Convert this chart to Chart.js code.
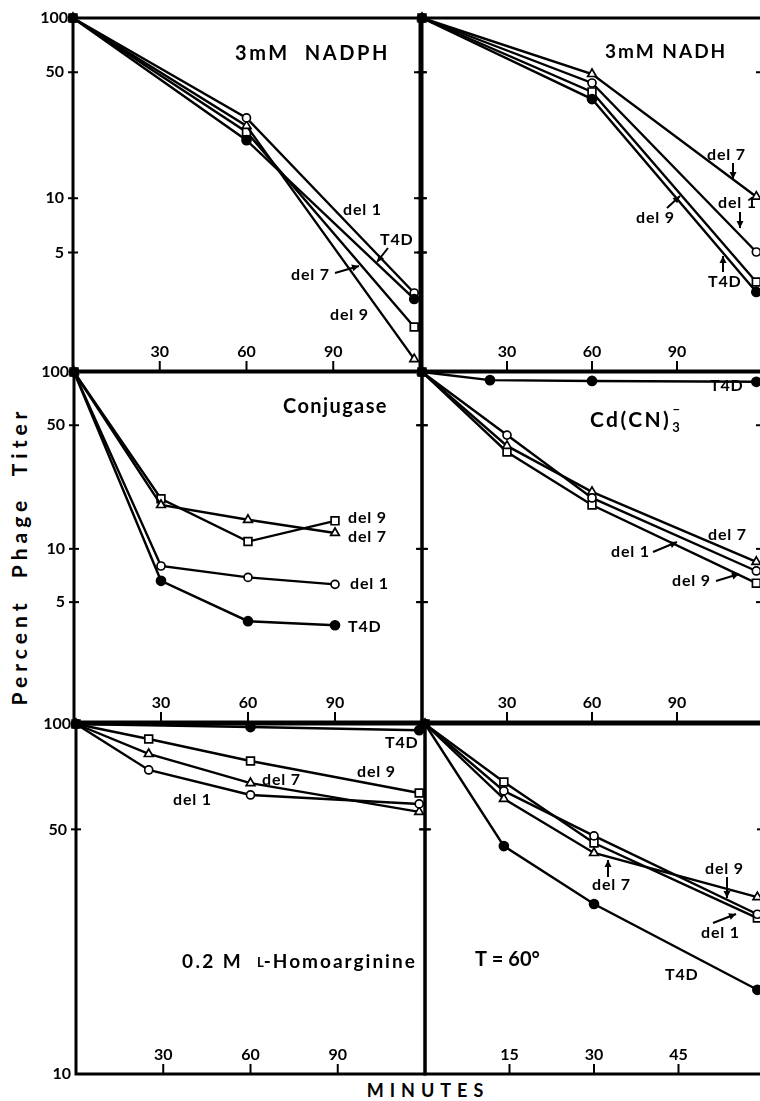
<!DOCTYPE html>
<html>
<head>
<meta charset="utf-8">
<script src="https://cdn.jsdelivr.net/npm/chart.js@4.4.1/dist/chart.umd.min.js"></script>
<style>
  html, body { margin: 0; padding: 0; background: #fff; overflow: hidden; width: 760px; height: 1101px; }
  canvas { position: absolute; left: 0; top: 0; }
  .ytitle { position: absolute; left: 18px; top: 556px; transform: translate(-50%, -50%) rotate(-90deg);
            font: 700 21px Lato, sans-serif; letter-spacing: 5px; white-space: nowrap; color: #000; }
  .xtitle { position: absolute; left: 428px; top: 1090px; transform: translate(-50%, -50%);
            font: 700 18px Lato, sans-serif; letter-spacing: 6px; white-space: nowrap; color: #000; }
</style>
</head>
<body>
<div class="ytitle">Percent&nbsp; Phage&nbsp; Titer</div>
<div class="xtitle">MINUTES</div>
<canvas id="c0" width="800" height="1101"></canvas>
<canvas id="c1" width="800" height="1101"></canvas>
<canvas id="c2" width="800" height="1101"></canvas>
<canvas id="c3" width="800" height="1101"></canvas>
<canvas id="c4" width="800" height="1101"></canvas>
<canvas id="c5" width="800" height="1101"></canvas>
<script>
// ---- data (minutes, percent phage titer) ----
const nadphMin = [0, 60, 118];
const nadphT4D = [100, 21.0, 2.76];
const nadphDel1 = [100, 27.9, 2.98];
const nadphDel7 = [100, 25.2, 1.28];
const nadphDel9 = [100, 23.3, 1.93];

const nadhMin = [0, 60, 118];
const nadhT4D = [100, 35.5, 3.02];
const nadhDel1 = [100, 43.6, 5.03];
const nadhDel7 = [100, 48.9, 10.2];
const nadhDel9 = [100, 38.9, 3.43];

const conjMin = [0, 30, 60, 90];
const conjT4D = [100, 6.6, 3.9, 3.7];
const conjDel1 = [100, 8.0, 6.9, 6.3];
const conjDel7 = [100, 17.7, 14.6, 12.3];
const conjDel9 = [100, 19.2, 11.0, 14.4];

const cdMin = [0, 30, 60, 118];
const cdT4DMin = [0, 24, 60, 118];
const cdT4D = [100, 90, 89, 88];
const cdDel1 = [100, 44, 19.4, 7.5];
const cdDel7 = [100, 38.2, 21.0, 8.45];
const cdDel9 = [100, 35.3, 17.7, 6.4];

const harMin = [0, 25, 60, 118];
const harT4DMin = [0, 60, 118];
const harT4D = [100, 98, 96];
const harDel1 = [100, 73.9, 62.7, 59.1];
const harDel7 = [100, 82.1, 67.8, 56.1];
const harDel9 = [100, 90.6, 78.4, 63.5];

const heatMin = [0, 14, 30, 59];
const heatT4D = [100, 44.8, 30.6, 17.4];
const heatDel1 = [100, 64.4, 47.9, 28.6];
const heatDel7 = [100, 61.1, 42.8, 32.0];
const heatDel9 = [100, 68.3, 45.7, 27.9];

const xTicks120 = [30, 60, 90];
const xTicks60 = [15, 30, 45];
const yTicksWide = [100, 50, 10, 5];
const yTicksNarrow = [100, 50, 10];

// ---- styles ----
const FONT = "Lato, 'DejaVu Sans', sans-serif";
const marks = {
  t4d:  { style: 'circle',   r: 4.5, fill: '#000' },
  del1: { style: 'circle',   r: 4,   fill: '#fff' },
  del7: { style: 'triangle', r: 5,   fill: '#fff' },
  del9: { style: 'rect',     r: 5.5, fill: '#fff' }
};

function ds(label, xs, ys, kind) {
  const m = marks[kind];
  return {
    label,
    data: xs.map((x, i) => ({ x, y: ys[i] })),
    borderColor: '#000',
    borderWidth: 2.4,
    pointStyle: m.style,
    pointRadius: m.r,
    pointBackgroundColor: m.fill,
    pointBorderColor: '#000',
    pointBorderWidth: 1.7,
    clip: false,
    tension: 0
  };
}

function arrow(ctx, a, b) {
  const ang = Math.atan2(b[1] - a[1], b[0] - a[0]);
  ctx.lineWidth = 2;
  ctx.beginPath(); ctx.moveTo(a[0], a[1]); ctx.lineTo(b[0], b[1]); ctx.stroke();
  ctx.beginPath();
  ctx.moveTo(b[0], b[1]);
  ctx.lineTo(b[0] - 7 * Math.cos(ang) + 3.5 * Math.sin(ang), b[1] - 7 * Math.sin(ang) - 3.5 * Math.cos(ang));
  ctx.lineTo(b[0] - 7 * Math.cos(ang) - 3.5 * Math.sin(ang), b[1] - 7 * Math.sin(ang) + 3.5 * Math.cos(ang));
  ctx.closePath(); ctx.fill();
}

function drawParts(ctx, parts, x, y) {
  let cx = x;
  parts.forEach(p => {
    ctx.font = '700 ' + p.size + 'px ' + FONT;
    ctx.letterSpacing = (p.sp || 0) + 'px';
    ctx.textAlign = 'left';
    ctx.fillText(p.t, cx + (p.dx || 0), y + (p.dy || 0));
    if (!p.stay) cx += ctx.measureText(p.t).width;
  });
}

function panelPlugin(p) {
  return {
    id: 'panel',
    beforeDatasetsDraw(chart) {
      const { ctx, chartArea: a } = chart;
      const x = chart.scales.x, y = chart.scales.y;
      ctx.save();
      ctx.strokeStyle = '#000'; ctx.fillStyle = '#000';
      ctx.lineWidth = 3;
      ctx.strokeRect(a.left, a.top, a.right - a.left, a.bottom - a.top);
      ctx.lineWidth = 2;
      ctx.font = '700 16px ' + FONT;
      ctx.textAlign = 'center'; ctx.textBaseline = 'middle';
      p.xTicks.forEach(v => {
        const px = x.getPixelForValue(v);
        ctx.beginPath(); ctx.moveTo(px, a.bottom); ctx.lineTo(px, a.bottom - 10); ctx.stroke();
        ctx.fillText(String(v), px, a.bottom - 19);
      });
      p.yTicks.forEach(v => {
        const py = y.getPixelForValue(v);
        const edge = (v === 100 || v === p.yMin);
        if (!edge) {
          ctx.beginPath(); ctx.moveTo(a.left - 5, py); ctx.lineTo(a.left + 5, py); ctx.stroke();
          ctx.beginPath(); ctx.moveTo(a.right - 6, py); ctx.lineTo(a.right + 6, py); ctx.stroke();
        }
        if (p.yLabels) {
          ctx.textAlign = 'right';
          ctx.fillText(String(v), a.left - (edge ? 5 : 9), py);
        }
      });
      ctx.restore();
    },
    afterDraw(chart) {
      const ctx = chart.ctx;
      ctx.save();
      ctx.fillStyle = '#000'; ctx.strokeStyle = '#000';
      ctx.textBaseline = 'middle';
      drawParts(ctx, p.title, p.titleAt[0], p.titleAt[1]);
      p.notes.forEach(n => {
        ctx.font = '700 16px ' + FONT;
        ctx.letterSpacing = '0.8px';
        ctx.textAlign = 'left';
        ctx.fillText(n.t, n.at[0], n.at[1]);
        if (n.arrow) arrow(ctx, n.arrow[0], n.arrow[1]);
      });
      ctx.restore();
    }
  };
}

const panels = [
  {
    box: [73, 18, 420, 371], xMax: 120, yMin: 1.1, xTicks: xTicks120, yTicks: yTicksWide, yLabels: true,
    datasets: [ds('T4D', nadphMin, nadphT4D, 't4d'), ds('del 1', nadphMin, nadphDel1, 'del1'),
               ds('del 7', nadphMin, nadphDel7, 'del7'), ds('del 9', nadphMin, nadphDel9, 'del9')],
    title: [{ t: '3mM  NADPH', size: 20, sp: 2.6 }], titleAt: [235, 54],
    notes: [
      { t: 'del 1', at: [343, 210] },
      { t: 'T4D', at: [380, 240], arrow: [[388, 248], [377, 262]] },
      { t: 'del 7', at: [291, 275], arrow: [[335, 273], [359, 266]] },
      { t: 'del 9', at: [330, 315] }
    ]
  },
  {
    box: [422, 18, 762, 371], xMax: 120, yMin: 1.1, xTicks: xTicks120, yTicks: yTicksWide, yLabels: false,
    datasets: [ds('T4D', nadhMin, nadhT4D, 't4d'), ds('del 1', nadhMin, nadhDel1, 'del1'),
               ds('del 7', nadhMin, nadhDel7, 'del7'), ds('del 9', nadhMin, nadhDel9, 'del9')],
    title: [{ t: '3mM NADH', size: 19, sp: 2 }], titleAt: [605, 52],
    notes: [
      { t: 'del 7', at: [707, 155], arrow: [[733, 163], [733, 179]] },
      { t: 'del 1', at: [718, 203], arrow: [[740, 212], [740, 228]] },
      { t: 'del 9', at: [636, 218], arrow: [[667, 208], [680, 196]] },
      { t: 'T4D', at: [708, 282], arrow: [[723, 272], [723, 256]] }
    ]
  },
  {
    box: [74, 372, 422, 722], xMax: 120, yMin: 1.05, xTicks: xTicks120, yTicks: yTicksWide, yLabels: true,
    datasets: [ds('T4D', conjMin, conjT4D, 't4d'), ds('del 1', conjMin, conjDel1, 'del1'),
               ds('del 7', conjMin, conjDel7, 'del7'), ds('del 9', conjMin, conjDel9, 'del9')],
    title: [{ t: 'Conjugase', size: 20, sp: 1.4 }], titleAt: [283, 407],
    notes: [
      { t: 'del 9', at: [348, 518] },
      { t: 'del 7', at: [348, 537] },
      { t: 'del 1', at: [350, 584] },
      { t: 'T4D', at: [348, 627] }
    ]
  },
  {
    box: [422, 372, 762, 722], xMax: 120, yMin: 1.05, xTicks: xTicks120, yTicks: yTicksWide, yLabels: false,
    datasets: [ds('T4D', cdT4DMin, cdT4D, 't4d'), ds('del 1', cdMin, cdDel1, 'del1'),
               ds('del 7', cdMin, cdDel7, 'del7'), ds('del 9', cdMin, cdDel9, 'del9')],
    title: [{ t: 'Cd(CN)', size: 21, sp: 2.4 }, { t: '3', size: 13, dy: 8, stay: true, dx: 1 }, { t: '\u2013', size: 14, dy: -11, dx: 1 }],
    titleAt: [590, 420],
    notes: [
      { t: 'T4D', at: [710, 386] },
      { t: 'del 7', at: [708, 535] },
      { t: 'del 1', at: [611, 552], arrow: [[653, 552], [677, 542]] },
      { t: 'del 9', at: [672, 581], arrow: [[716, 581], [739, 574]] }
    ]
  },
  {
    box: [76, 724, 425, 1074], xMax: 120, yMin: 10, xTicks: xTicks120, yTicks: yTicksNarrow, yLabels: true,
    datasets: [ds('T4D', harT4DMin, harT4D, 't4d'), ds('del 1', harMin, harDel1, 'del1'),
               ds('del 7', harMin, harDel7, 'del7'), ds('del 9', harMin, harDel9, 'del9')],
    title: [{ t: '0.2 M', size: 19, sp: 2.4 }, { t: '   ', size: 19 }, { t: 'L', size: 13, dy: 1 }, { t: '-Homoarginine', size: 19, sp: 2 }],
    titleAt: [182, 962],
    notes: [
      { t: 'T4D', at: [385, 743] },
      { t: 'del 9', at: [357, 772] },
      { t: 'del 7', at: [262, 780] },
      { t: 'del 1', at: [173, 800] }
    ]
  },
  {
    box: [425, 724, 763, 1074], xMax: 60, yMin: 10, xTicks: xTicks60, yTicks: yTicksNarrow, yLabels: false,
    datasets: [ds('T4D', heatMin, heatT4D, 't4d'), ds('del 1', heatMin, heatDel1, 'del1'),
               ds('del 7', heatMin, heatDel7, 'del7'), ds('del 9', heatMin, heatDel9, 'del9')],
    title: [{ t: 'T = 60\u00b0', size: 20, sp: 0 }], titleAt: [475, 960],
    notes: [
      { t: 'del 9', at: [705, 869], arrow: [[727, 877], [727, 898]] },
      { t: 'del 7', at: [592, 885], arrow: [[608, 877], [608, 860]] },
      { t: 'del 1', at: [701, 933], arrow: [[713, 923], [736, 914]] },
      { t: 'T4D', at: [665, 975] }
    ]
  }
];

panels.forEach((p, i) => {
  const [l, t, r, b] = p.box;
  new Chart(document.getElementById('c' + i), {
    type: 'line',
    data: { datasets: p.datasets },
    options: {
      responsive: false,
      animation: false,
      events: [],
      layout: { padding: { left: l, top: t, right: 800 - r, bottom: 1101 - b } },
      plugins: { legend: { display: false }, tooltip: { enabled: false } },
      scales: {
        x: { type: 'linear', min: 0, max: p.xMax, display: false },
        y: { type: 'logarithmic', min: p.yMin, max: 100, display: false }
      }
    },
    plugins: [panelPlugin(p)]
  });
});
</script>
</body>
</html>
